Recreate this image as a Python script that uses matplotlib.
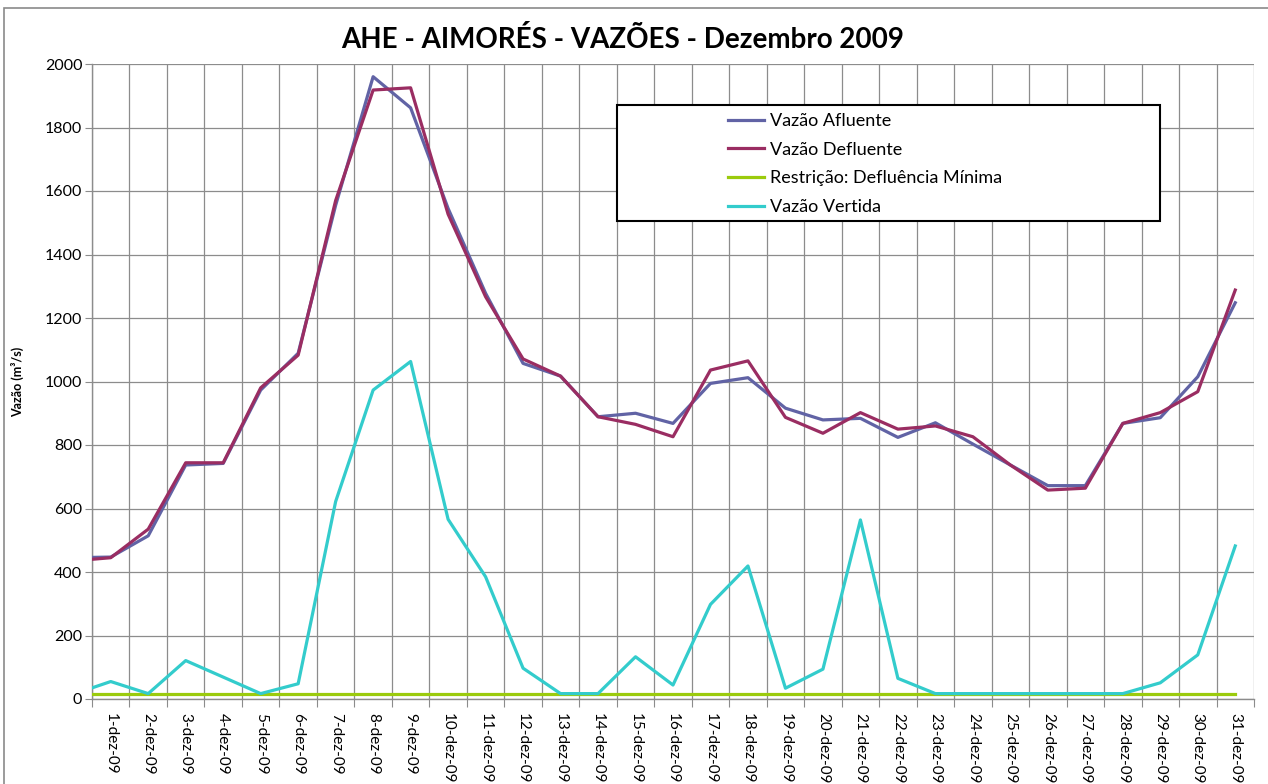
import matplotlib
matplotlib.use('Agg')
import matplotlib.pyplot as plt
from matplotlib.patches import Rectangle
import numpy as np

# Categories (30-nov is only the clipped start of the lines)
datas = ['30-nov-09'] + [f'{d}-dez-09' for d in range(1, 32)]
vazao_afluente = [445, 447, 514, 737, 742, 973, 1089, 1555, 1960, 1862, 1545, 1278, 1057, 1017, 889,
                  900, 868, 994, 1012, 916, 879, 884, 824, 870, 803, 737, 672, 672, 868, 886, 1015, 1248]
vazao_defluente = [435, 445, 535, 744, 744, 980, 1083, 1570, 1918, 1925, 1527, 1267, 1071, 1017, 889,
                   865, 826, 1036, 1065, 887, 837, 902, 850, 860, 826, 737, 658, 664, 868, 902, 968, 1288]
defluencia_minima = [15] * 32
vazao_vertida = [15, 55, 17, 121, 69, 17, 48, 622, 973, 1063, 566, 385, 97, 17, 17, 133, 44, 298, 419,
                 34, 94, 564, 65, 17, 17, 17, 17, 17, 17, 51, 139, 482]
y_ticks = list(range(0, 2001, 200))

plt.rcParams['font.family'] = ['Lato', 'DejaVu Sans']

W, H = 1268, 784
fig = plt.figure(figsize=(W / 100, H / 100), dpi=100)
ax = fig.add_axes([92 / W, 1 - 699 / H, (1254 - 92) / W, (699 - 64) / H])

x = np.arange(len(datas))
ax.plot(x, vazao_afluente, color='#6163A5', lw=2.3, label='Vazão Afluente', zorder=3)
ax.plot(x, vazao_defluente, color='#9A2D62', lw=2.3, label='Vazão Defluente', zorder=4)
ax.plot(x, defluencia_minima, color='#9BCB0D', lw=2.3, label='Restrição: Defluência Mínima', zorder=5)
ax.plot(x, vazao_vertida, color='#33CCCC', lw=2.3, label='Vazão Vertida', zorder=6)

ax.set_xlim(0.5, len(datas) - 0.5)
ax.set_ylim(0, 2000)

grid_c = '#8C8C8C'
ax.set_xticks(np.arange(0.5, len(datas), 1.0))
ax.set_xticklabels([])
ax.set_xticks(x[1:], minor=True)
ax.set_xticklabels(datas[1:], minor=True, rotation=-90, fontsize=11, va='top', ha='center')
ax.tick_params(axis='x', which='major', length=6, color=grid_c, direction='out')
ax.tick_params(axis='x', which='minor', length=0, pad=10)
ax.set_yticks(y_ticks)
ax.set_yticklabels([str(v) for v in y_ticks], fontsize=11.5)
ax.tick_params(axis='y', length=5, color=grid_c, direction='out', pad=2)

ax.grid(True, which='major', color=grid_c, lw=0.9)
ax.set_axisbelow(True)
for s in ['top', 'right']:
    ax.spines[s].set_visible(False)
for s in ['left', 'bottom']:
    ax.spines[s].set_color(grid_c)
    ax.spines[s].set_linewidth(1.0)

ax.set_ylabel('Vazão (m³/s)', fontsize=9, fontweight='bold')
ax.yaxis.set_label_coords(-68 / (1254 - 92), 0.5)

fig.text(623 / W, 1 - 40 / H, 'AHE - AIMORÉS - VAZÕES - Dezembro 2009', fontsize=20,
         fontweight='bold', ha='center', va='center')

# Legend frame
fig.patches.append(Rectangle((617 / W, 1 - 221 / H), (1160 - 617) / W, (221 - 105) / H,
                             transform=fig.transFigure, fill=False, ec='black', lw=1.5, zorder=10))
fig.patches.append(Rectangle((617 / W, 1 - 221 / H), (1160 - 617) / W, (221 - 105) / H,
                             transform=fig.transFigure, fill=True, fc='white', ec='none', zorder=1))
leg = fig.legend(loc='upper left', bbox_to_anchor=(728 / W, 1 - 113 / H), frameon=False,
                 fontsize=13, handlelength=2.0, handletextpad=0.3, labelspacing=0.7,
                 borderpad=0, borderaxespad=0)
leg.set_zorder(11)

# Chart area border (cropped at right/bottom)
fig.patches.append(Rectangle((4 / W, -0.1), 1.2, 1.1 - 8 / H, transform=fig.transFigure,
                             fill=False, ec='#8A8A8A', lw=1.2))

fig.savefig('out.png', dpi=100)
